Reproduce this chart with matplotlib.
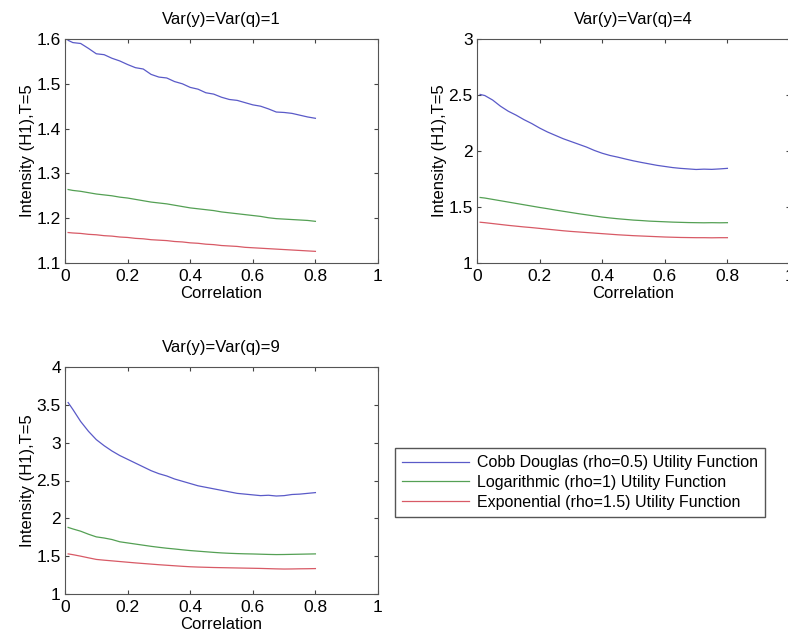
import matplotlib
matplotlib.use("Agg")
import matplotlib.pyplot as plt
import numpy as np

plt.rcParams['font.family'] = ['Liberation Sans', 'DejaVu Sans']

# correlation grid
corr = [0.01, 0.025, 0.05, 0.075, 0.1, 0.125, 0.15, 0.175, 0.2, 0.225, 0.25,
        0.275, 0.3, 0.325, 0.35, 0.375, 0.4, 0.425, 0.45, 0.475, 0.5, 0.525,
        0.55, 0.575, 0.6, 0.625, 0.65, 0.675, 0.7, 0.725, 0.75, 0.775, 0.8]

# Var = 1
cd_1 = [1.597, 1.592, 1.590, 1.579, 1.567, 1.565, 1.557, 1.551, 1.543, 1.536, 1.533,
        1.521, 1.515, 1.513, 1.505, 1.500, 1.492, 1.488, 1.480, 1.477, 1.470, 1.465,
        1.463, 1.458, 1.453, 1.450, 1.444, 1.437, 1.436, 1.434, 1.430, 1.426, 1.423]
log_1 = [1.264, 1.262, 1.260, 1.257, 1.254, 1.252, 1.250, 1.247, 1.245, 1.242, 1.239,
         1.236, 1.234, 1.232, 1.229, 1.226, 1.223, 1.221, 1.219, 1.217, 1.214, 1.212,
         1.210, 1.208, 1.206, 1.204, 1.201, 1.199, 1.198, 1.197, 1.196, 1.195, 1.193]
exp_1 = [1.168, 1.167, 1.166, 1.164, 1.163, 1.161, 1.160, 1.158, 1.157, 1.155, 1.154,
         1.152, 1.151, 1.150, 1.148, 1.147, 1.145, 1.144, 1.142, 1.141, 1.139, 1.138,
         1.137, 1.135, 1.134, 1.133, 1.132, 1.131, 1.130, 1.129, 1.128, 1.127, 1.126]

# Var = 4
cd_4 = [2.505, 2.495, 2.455, 2.400, 2.355, 2.320, 2.280, 2.245, 2.205, 2.170, 2.140,
        2.110, 2.085, 2.060, 2.035, 2.005, 1.980, 1.960, 1.945, 1.928, 1.912, 1.898,
        1.885, 1.872, 1.862, 1.852, 1.845, 1.840, 1.835, 1.838, 1.836, 1.840, 1.845]
log_4 = [1.585, 1.580, 1.568, 1.556, 1.544, 1.532, 1.520, 1.508, 1.496, 1.485, 1.473,
         1.462, 1.451, 1.440, 1.430, 1.420, 1.410, 1.402, 1.395, 1.389, 1.383, 1.379,
         1.374, 1.371, 1.368, 1.365, 1.363, 1.361, 1.360, 1.359, 1.360, 1.359, 1.360]
exp_4 = [1.364, 1.360, 1.352, 1.344, 1.336, 1.329, 1.322, 1.316, 1.309, 1.302, 1.295,
         1.288, 1.282, 1.277, 1.272, 1.267, 1.262, 1.257, 1.252, 1.248, 1.244, 1.241,
         1.238, 1.235, 1.232, 1.230, 1.228, 1.227, 1.226, 1.226, 1.225, 1.226, 1.226]

# Var = 9
cd_9 = [3.53, 3.44, 3.28, 3.15, 3.04, 2.96, 2.89, 2.83, 2.78, 2.73, 2.68,
        2.63, 2.59, 2.56, 2.52, 2.49, 2.46, 2.43, 2.41, 2.39, 2.37, 2.35,
        2.33, 2.32, 2.31, 2.30, 2.305, 2.295, 2.30, 2.315, 2.32, 2.33, 2.34]
log_9 = [1.88, 1.86, 1.83, 1.79, 1.755, 1.74, 1.72, 1.69, 1.675, 1.66, 1.645,
         1.63, 1.617, 1.605, 1.595, 1.584, 1.574, 1.566, 1.558, 1.55, 1.543, 1.538,
         1.534, 1.531, 1.529, 1.526, 1.523, 1.521, 1.522, 1.524, 1.526, 1.528, 1.53]
exp_9 = [1.53, 1.52, 1.50, 1.478, 1.457, 1.447, 1.438, 1.429, 1.42, 1.411, 1.403,
         1.395, 1.387, 1.380, 1.373, 1.366, 1.360, 1.356, 1.353, 1.350, 1.348, 1.346,
         1.344, 1.342, 1.340, 1.338, 1.335, 1.332, 1.330, 1.331, 1.333, 1.334, 1.336]

titles = ['Var(y)=Var(q)=1', 'Var(y)=Var(q)=4', 'Var(y)=Var(q)=9']
labels = ['Cobb Douglas (rho=0.5) Utility Function',
          'Logarithmic (rho=1) Utility Function',
          'Exponential (rho=1.5) Utility Function']
colors = ['#5a5ac8', '#54a054', '#d85a66']

panels = [(cd_1, log_1, exp_1), (cd_4, log_4, exp_4), (cd_9, log_9, exp_9)]
ylims = [(1.1, 1.6), (1, 3), (1, 4)]
yticks = [[1.1, 1.2, 1.3, 1.4, 1.5, 1.6], [1, 1.5, 2, 2.5, 3],
          [1, 1.5, 2, 2.5, 3, 3.5, 4]]
ytlabels = [['1.1', '1.2', '1.3', '1.4', '1.5', '1.6'], ['1', '1.5', '2', '2.5', '3'],
            ['1', '1.5', '2', '2.5', '3', '3.5', '4']]

W, H = 788, 640
pos = [(65, 39, 313, 224), (477, 39, 313, 224), (65, 367, 313, 227)]

fig = plt.figure(figsize=(W / 100, H / 100), dpi=100)
lines = []
for i in range(3):
    l, t, w, h = pos[i]
    ax = fig.add_axes([l / W, 1 - (t + h) / H, w / W, h / H])
    for ys, c, lab in zip(panels[i], colors, labels):
        ln, = ax.plot(corr, ys, color=c, lw=0.9, label=lab)
        if i == 0:
            lines.append(ln)
    ax.set_xlim(0, 1)
    ax.set_ylim(*ylims[i])
    ax.set_xticks([0, 0.2, 0.4, 0.6, 0.8, 1])
    ax.set_xticklabels(['0', '0.2', '0.4', '0.6', '0.8', '1'])
    ax.set_yticks(yticks[i])
    ax.set_yticklabels(ytlabels[i])
    ax.tick_params(direction='in', top=True, right=True, length=3,
                   labelsize=12.5, color='#444444')
    ax.tick_params(axis='x', pad=4)
    ax.tick_params(axis='y', pad=3)
    for s in ax.spines.values():
        s.set_color('#555555')
        s.set_linewidth(0.8)
    ax.set_title(titles[i], fontsize=12, pad=11)
    ax.set_xlabel('Correlation', fontsize=12, labelpad=2)
    ax.set_ylabel('Intensity (H1),T=5', fontsize=12, labelpad=1)

fig.legend(handles=lines, loc='upper left',
           bbox_to_anchor=(395 / W, 1 - 448 / H), borderaxespad=0,
           fancybox=False, edgecolor='#555555', framealpha=1,
           fontsize=11.5, handlelength=4.2, handletextpad=0.5,
           labelspacing=0.3, borderpad=0.45)

fig.savefig('out.png', dpi=100)
